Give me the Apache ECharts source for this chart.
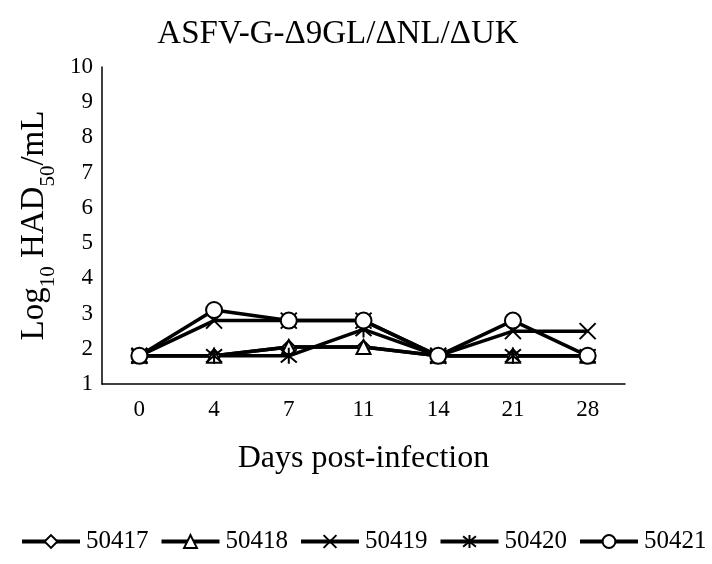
<!DOCTYPE html>
<html>
<head>
<meta charset="utf-8">
<script src="https://cdn.jsdelivr.net/npm/echarts@6/dist/echarts.min.js"></script>
<style>
  html, body { margin: 0; padding: 0; background: #fff; }
  #chart { width: 712px; height: 564px; }
</style>
</head>
<body>
<div id="chart"></div>
<script>
var days = ['0', '4', '7', '11', '14', '21', '28'];
var s50417 = [1.8, 1.8, 2.05, 2.05, 1.8, 1.8, 1.8];
var s50418 = [1.8, 1.8, 2.05, 2.05, 1.8, 1.8, 1.8];
var s50419 = [1.8, 2.8, 2.8, 2.8, 1.8, 2.5, 2.5];
var s50420 = [1.8, 1.8, 1.8, 2.55, 1.8, 1.8, 1.8];
var s50421 = [1.8, 3.1, 2.8, 2.8, 1.8, 2.8, 1.8];

var font = 'Liberation Serif';
var xPath = 'path://M0,0 L10,10 M10,0 L0,10';
var starPath = 'path://M0,0 L10,10 M10,0 L0,10 M5,-1 L5,11';

function mkSeries(name, vals, symbol, size) {
    return {
        name: name,
        type: 'line',
        data: vals,
        symbol: symbol,
        symbolSize: size,
        lineStyle: { color: '#000', width: 3.5 },
        itemStyle: {
            color: '#000',
            borderColor: '#000',
            borderWidth: 2
        }
    };
}

var chart = echarts.init(document.getElementById('chart'));
chart.setOption({
    animation: false,
    backgroundColor: '#fff',
    title: {
        text: 'ASFV-G-Δ9GL/ΔNL/ΔUK',
        left: 333,
        textAlign: 'center',
        top: 13,
        textStyle: { fontFamily: font, fontSize: 33, fontWeight: 'normal', color: '#000' }
    },
    grid: { left: 102, right: 87, top: 67, bottom: 180 },
    xAxis: {
        type: 'category',
        data: days,
        boundaryGap: true,
        axisLine: { lineStyle: { color: '#000', width: 1.5 } },
        axisTick: { show: false },
        axisLabel: { fontFamily: font, fontSize: 23, color: '#000', margin: 14 },
        name: 'Days post-infection',
        nameLocation: 'middle',
        nameGap: 59,
        nameTextStyle: { fontFamily: font, fontSize: 32, color: '#000' }
    },
    yAxis: {
        type: 'value',
        min: 1,
        max: 10,
        interval: 1,
        axisLine: { show: true, lineStyle: { color: '#000', width: 1.5 } },
        axisTick: { show: false },
        splitLine: { show: false },
        axisLabel: { fontFamily: font, fontSize: 23, color: '#000', margin: 9 },
        name: '{a|Log}{s|10}{a| HAD}{s|50}{a|/mL}',
        nameLocation: 'middle',
        nameGap: 50,
        nameTextStyle: {
            rich: {
                a: { fontFamily: font, fontSize: 33, color: '#000', verticalAlign: 'bottom' },
                s: { fontFamily: font, fontSize: 21, color: '#000', verticalAlign: 'bottom', padding: [0, 0, -8, 0] }
            }
        }
    },
    legend: {
        bottom: 10,
        left: 20,
        width: 700,
        padding: 0,
        itemWidth: 58,
        itemHeight: 16,
        itemGap: 11,
        lineStyle: { width: 4 },
        textStyle: { fontFamily: font, fontSize: 25, color: '#000', padding: [0, 0, 0, 1] },
        data: ['50417', '50418', '50419', '50420', '50421']
    },
    series: [
        mkSeries('50417', s50417, 'emptyDiamond', 13),
        mkSeries('50418', s50418, 'emptyTriangle', 14),
        mkSeries('50419', s50419, xPath, 16),
        mkSeries('50420', s50420, starPath, 16),
        mkSeries('50421', s50421, 'emptyCircle', 16)
    ]
});
</script>
</body>
</html>
